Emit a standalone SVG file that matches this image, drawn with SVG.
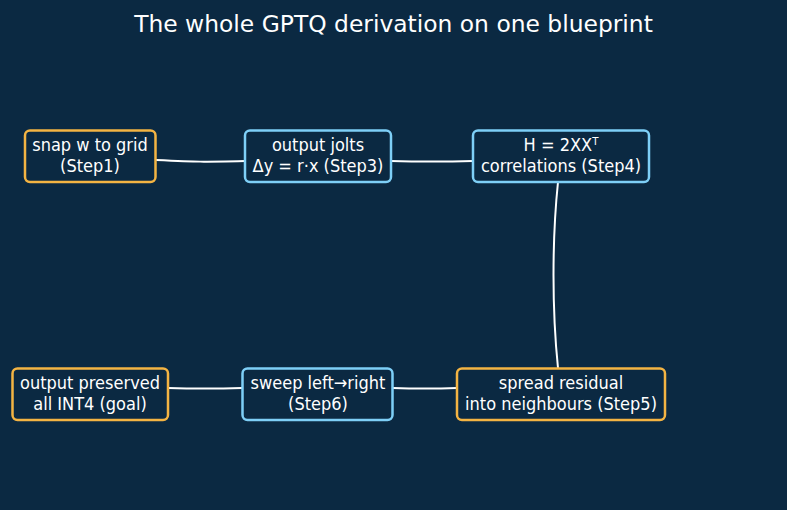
<svg xmlns="http://www.w3.org/2000/svg" width="787" height="510" viewBox="0 0 787 510">
<style>
.bg{fill:#0b2942}
.node rect{fill:#0b2942;stroke-width:2.5}
.o rect{stroke:#f4b443}
.b rect{stroke:#7ecff7}
.node text{font-family:"DejaVu Sans Condensed","DejaVu Sans",sans-serif;font-size:18px;fill:#ffffff;text-anchor:middle}
.title{font-family:"DejaVu Sans",sans-serif;font-size:23.4px;fill:#ffffff;text-anchor:middle}
#connectors path{fill:none;stroke:#ffffff;stroke-width:2}
</style>
<rect class="bg" x="0" y="0" width="787" height="510"/>
<text class="title" x="393.5" y="32">The whole GPTQ derivation on one blueprint</text>
<g id="connectors">
<path d="M156,160 C200,162 200,162 245,161"/>
<path d="M391,161 C432,162 432,162 473,161"/>
<path d="M558,182 C552,240 552,310 558,368"/>
<path d="M457,388 C425,389 425,389 393,388"/>
<path d="M242,388 C205,389 205,389 168,388"/>
</g>
<g id="n1" class="node o"><rect x="25" y="130.5" width="130.5" height="51.5" rx="5"/><text x="90" y="151">snap w to grid</text><text x="90" y="171.5">(Step1)</text></g>
<g id="n2" class="node b"><rect x="245" y="130.5" width="146" height="51.5" rx="5"/><text x="318" y="151">output jolts</text><text x="318" y="171.5">Δy = r·x (Step3)</text></g>
<g id="n3" class="node b"><rect x="473" y="130.5" width="176" height="51.5" rx="5"/><text x="561" y="151">H = 2XXᵀ</text><text x="561" y="171.5">correlations (Step4)</text></g>
<g id="n4" class="node o"><rect x="457" y="368.5" width="208" height="51.5" rx="5"/><text x="561" y="389">spread residual</text><text x="561" y="409.5">into neighbours (Step5)</text></g>
<g id="n5" class="node b"><rect x="242.5" y="368.5" width="150" height="51.5" rx="5"/><text x="318" y="389">sweep left→right</text><text x="318" y="409.5">(Step6)</text></g>
<g id="n6" class="node o"><rect x="12.5" y="368.5" width="155.5" height="51.5" rx="5"/><text x="90" y="389">output preserved</text><text x="90" y="409.5">all INT4 (goal)</text></g>
</svg>
